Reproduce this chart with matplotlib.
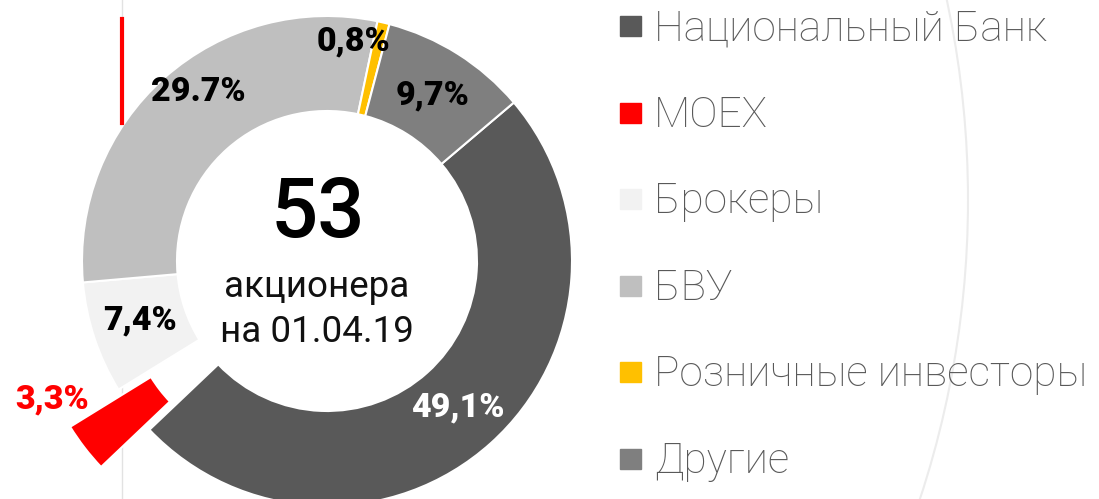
import matplotlib.pyplot as plt
from matplotlib.patches import Circle, Rectangle

# структура акционеров
names = ['Национальный Банк', 'MOEX', 'Брокеры', 'БВУ', 'Розничные инвесторы', 'Другие']
shares = [49.1, 3.3, 7.4, 29.7, 0.8, 9.7]
pct_labels = ['49,1%', '3,3%', '7,4%', '29.7%', '0,8%', '9,7%']
colors = ['#595959', '#ff0000', '#f2f2f2', '#bfbfbf', '#ffc000', '#7f7f7f']
explode = [0, 61, 0, 0, 0, 0]
total_holders = '53'
holders_text = ['акционера', 'на 01.04.19']

W, H = 1099, 499


def py(y):
    # пиксели сверху -> координаты снизу
    return H - y


plt.rcParams['font.family'] = ['Roboto', 'DejaVu Sans']

fig = plt.figure(figsize=(W / 100, H / 100), dpi=100)
ax = fig.add_axes([0, 0, 1, 1])

cx, cy, R = 327, 261, 245
ax.pie(shares, colors=colors, explode=explode, startangle=40.3, counterclock=False,
       radius=R, center=(cx, py(cy)),
       wedgeprops=dict(width=95, edgecolor='white', linewidth=1.5))

ax.set_aspect('equal')
ax.set_xlim(0, W)
ax.set_ylim(0, H)
ax.axis('off')

# декоративные линии
ax.axvline(121.5, color='#e2e2e2', lw=1, zorder=0)
ax.plot([121.5, 121.5], [py(19), py(123)], color='#ff0000', lw=3, zorder=1)
ax.add_patch(Circle((14, py(200)), 954, fill=False, ec='#ececec', lw=1.5, zorder=0))

# подписи долей
label_pos = [(458, 416), (52, 408), (140, 329), (198, 101), (354, 50), (433, 104)]
label_col = ['white', '#ff0000', 'black', 'black', 'black', 'black']
for txt, (x, y), c in zip(pct_labels, label_pos, label_col):
    ax.text(x, py(y), txt, ha='center', va='baseline', fontsize=24.5,
            fontweight='heavy', color=c)

# центр
ax.text(318, py(237), total_holders, ha='center', va='baseline', fontsize=60,
        fontweight='medium', color='black')
ax.text(317, py(297), holders_text[0], ha='center', va='baseline', fontsize=26.5,
        color='#111111')
ax.text(317, py(342), holders_text[1], ha='center', va='baseline', fontsize=26.5,
        color='#111111')

# легенда
for i, (name, col) in enumerate(zip(names, colors)):
    base = 40 + i * 86.6
    ax.add_patch(Rectangle((620, py(base - 4)), 21, 20, color=col, zorder=2))
    ax.text(654, py(base), name, ha='left', va='baseline', fontsize=30.5,
            fontweight='light', color='#595959')

fig.savefig('out.png', dpi=100)
